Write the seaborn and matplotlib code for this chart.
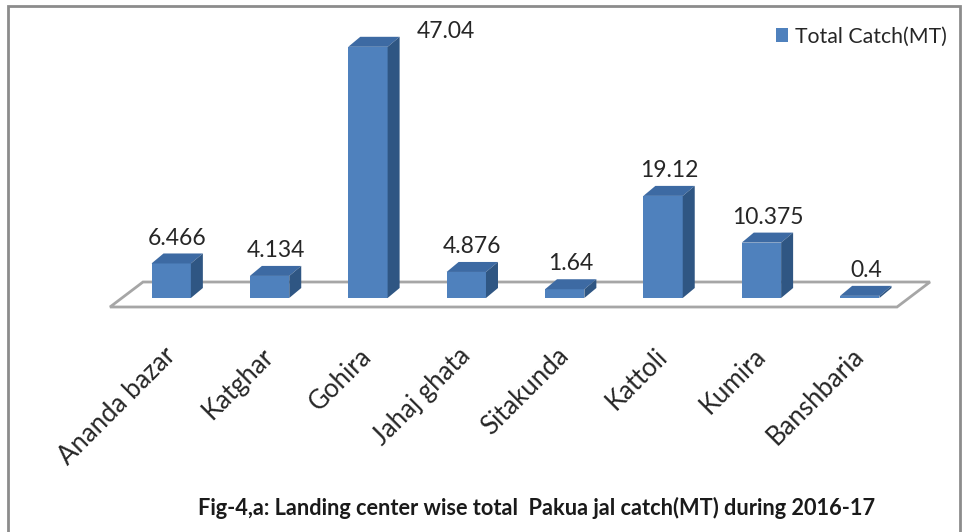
import numpy as np
import pandas as pd
import matplotlib
matplotlib.use("Agg")
import matplotlib.pyplot as plt
from matplotlib.patches import Polygon, Rectangle
import seaborn as sns

# data
centers = ["Ananda bazar", "Katghar", "Gohira", "Jahaj ghata",
           "Sitakunda", "Kattoli", "Kumira", "Banshbaria"]
catch_mt = [6.466, 4.134, 47.04, 4.876, 1.64, 19.12, 10.375, 0.4]
value_labels = ["6.466", "4.134", "47.04", "4.876", "1.64", "19.12", "10.375", "0.4"]
series_name = "Total Catch(MT)"
title = "Fig-4,a: Landing center wise total  Pakua jal catch(MT) during 2016-17"

df = pd.DataFrame({"center": centers, "catch": catch_mt})

front_col = "#4F81BD"
top_col = "#3D6AA3"
side_col = "#2F5683"
floor_col = "#A6A6A6"

sns.set_theme(style="white")
plt.rcParams['font.family'] = ['Lato', 'DejaVu Sans']

W, H = 963, 532
fig = plt.figure(figsize=(W / 100, H / 100), dpi=100)
# axes box in pixels: x 122..909, y (from top) 31..298
ax = fig.add_axes([122 / W, (H - 298) / H, 787 / W, 267 / H])

sns.barplot(data=df, x="center", y="catch", color=front_col, saturation=1,
            width=0.4, ax=ax, label=series_name, linewidth=0, zorder=3)
ax.set_xlim(-0.5, len(centers) - 0.5)
ax.set_ylim(0, 50)

# pixel -> data unit helpers
px_x = (len(centers)) / 787.0
px_y = 50 / 267.0
dx, dy = 12 * px_x, 10 * px_y

# floor (Excel 3-D style)
x0, x1 = -0.5, len(centers) - 0.5
fx_f, fy_f = -12 * px_x, -9 * px_y
fx_b, fy_b = 21 * px_x, 16 * px_y
floor = Polygon([(x0 + fx_f, fy_f), (x1 + fx_f, fy_f),
                 (x1 + fx_b, fy_b), (x0 + fx_b, fy_b)],
                closed=True, facecolor="white", edgecolor=floor_col,
                lw=2, zorder=1, clip_on=False)
ax.add_patch(floor)

# extrude the bars
for i, p in enumerate(ax.patches[:len(centers)]):
    xl = p.get_x()
    xr = xl + p.get_width()
    h = p.get_height()
    top = Polygon([(xl, h), (xr, h), (xr + dx, h + dy), (xl + dx, h + dy)],
                  closed=True, facecolor=top_col, edgecolor="none",
                  zorder=3, clip_on=False)
    side = Polygon([(xr, 0), (xr + dx, dy), (xr + dx, h + dy), (xr, h)],
                   closed=True, facecolor=side_col, edgecolor="none",
                   zorder=3, clip_on=False)
    ax.add_patch(top)
    ax.add_patch(side)
    if h + dy + 8 * px_y > ax.get_ylim()[1] * 0.9:
        ax.annotate(value_labels[i], (xr + dx, h), xytext=(12, 11),
                    textcoords="offset points", ha="left", va="center",
                    fontsize=16.5, color="#262626", annotation_clip=False)
    else:
        ax.annotate(value_labels[i], ((xl + xr) / 2 + dx / 2, h + dy),
                    xytext=(0, 11), textcoords="offset points",
                    ha="center", va="center", fontsize=16.5,
                    color="#262626", annotation_clip=False)

for s in ax.spines.values():
    s.set_visible(False)
ax.set_yticks([])
ax.set_xlabel("")
ax.set_ylabel("")
ax.tick_params(axis="x", length=0, pad=39)
for lab in ax.get_xticklabels():
    lab.set_rotation(45)
    lab.set_ha("right")
    lab.set_va("center")
    lab.set_rotation_mode("anchor")
    lab.set_fontsize(18.5)
    lab.set_color("#262626")

leg = ax.legend(loc="upper right", bbox_to_anchor=(955 / W, 1 - 18 / H),
                bbox_transform=fig.transFigure, frameon=False,
                handlelength=0.6, handleheight=0.6, handletextpad=0.3,
                fontsize=15.3, borderaxespad=0)

fig.text(537 / W, 1 - 508 / H, title, ha="center", va="center",
         fontsize=15.7, fontweight="bold", color="#1a1a1a")

# outer frame of the scanned figure
frame = Rectangle((8 / W, -0.05), (960 - 8) / W, 1.05 - 6 / H,
                  transform=fig.transFigure, fill=False,
                  edgecolor="#8c8c8c", lw=2, zorder=0)
fig.patches.append(frame)

fig.savefig("out.png", dpi=100)
